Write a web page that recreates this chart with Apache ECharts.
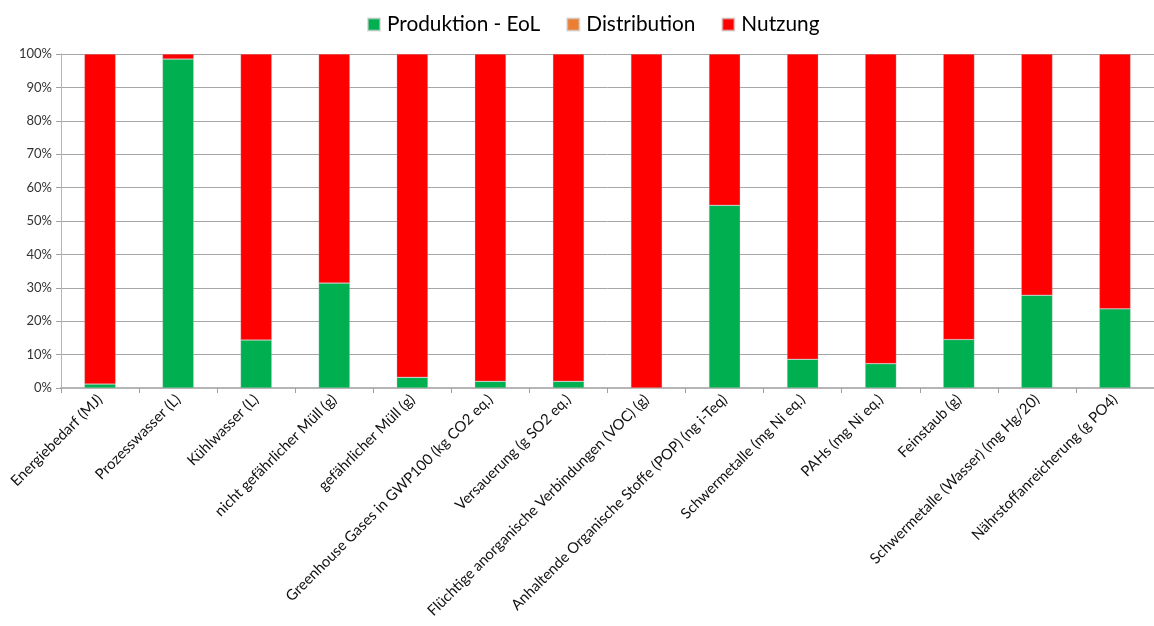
<!DOCTYPE html>
<html>
<head>
<meta charset="utf-8">
<script src="https://cdn.jsdelivr.net/npm/echarts@6/dist/echarts.min.js"></script>
<style>
  html, body { margin: 0; padding: 0; background: #fff; }
  #chart { width: 1154px; height: 626px; }
</style>
</head>
<body>
<div id="chart"></div>
<script>
// Impact categories along the x axis
const categories = [
  'Energiebedarf (MJ)',
  'Prozesswasser (L)',
  'Kühlwasser (L)',
  'nicht gefährlicher Müll (g)',
  'gefährlicher Müll (g)',
  'Greenhouse Gases in GWP100 (kg CO2 eq.)',
  'Versauerung (g SO2 eq.)',
  'Flüchtige anorganische Verbindungen (VOC) (g)',
  'Anhaltende Organische Stoffe (POP) (ng i-Teq)',
  'Schwermetalle (mg Ni eq.)',
  'PAHs (mg Ni eq.)',
  'Feinstaub (g)',
  'Schwermetalle (Wasser) (mg Hg/20)',
  'Nährstoffanreicherung (g PO4)'
];

// Share of each life-cycle phase, in percent
const produktion   = [1.2, 98.5, 14.4, 31.4, 3.2, 2.0, 2.0, 0.0, 54.7, 8.6, 7.3, 14.5, 27.8, 23.7];
const distribution = [0, 0, 0, 0, 0, 0, 0, 0, 0, 0, 0, 0, 0, 0];
const nutzung      = [98.8, 1.5, 85.6, 68.6, 96.8, 98.0, 98.0, 100.0, 45.3, 91.4, 92.7, 85.5, 72.2, 76.3];

const seriesNames = ['Produktion - EoL', 'Distribution', 'Nutzung'];
const yTicks = [0, 10, 20, 30, 40, 50, 60, 70, 80, 90, 100];

const FONT = 'Lato, "Open Sans", sans-serif';
const colors = ['#00b050', '#ed7d31', '#ff0000'];

const chart = echarts.init(document.getElementById('chart'), null, { renderer: 'canvas' });

const barStyle = { borderColor: 'rgba(200,200,200,0.6)', borderWidth: 0.5 };

chart.setOption({
  animation: false,
  color: colors,
  legend: {
    top: 9,
    left: 362,
    itemWidth: 12,
    itemHeight: 12,
    itemGap: 26,
    icon: 'rect',
    textStyle: { fontFamily: FONT, fontSize: 20.8, color: '#000', padding: [0, 0, 0, 2] },
    data: seriesNames
  },
  grid: { left: 61, right: -6, top: 54, bottom: 238, containLabel: false },
  xAxis: {
    type: 'category',
    data: categories,
    axisLine: { lineStyle: { color: '#b5b5b5', width: 2 } },
    axisTick: { show: true, alignWithLabel: false, length: 5, lineStyle: { color: '#a0a0a0' } },
    axisLabel: {
      rotate: 45,
      interval: 0,
      margin: 9,
      fontFamily: FONT,
      fontSize: 14.8,
      color: '#111'
    }
  },
  yAxis: {
    type: 'value',
    min: 0,
    max: 100,
    interval: 10,
    axisLine: { show: true, lineStyle: { color: '#b5b5b5', width: 1 } },
    axisTick: { show: true, length: 5, lineStyle: { color: '#a0a0a0' } },
    splitLine: { lineStyle: { color: '#a6a6a6', width: 1 } },
    axisLabel: {
      formatter: function (v) { return yTicks.indexOf(v) >= 0 ? v + '%' : ''; },
      fontFamily: FONT,
      fontSize: 13,
      color: '#333',
      margin: 9
    }
  },
  series: [
    { name: seriesNames[0], type: 'bar', stack: 'total', data: produktion, barWidth: '40%', itemStyle: barStyle },
    { name: seriesNames[1], type: 'bar', stack: 'total', data: distribution, barWidth: '40%', itemStyle: barStyle },
    { name: seriesNames[2], type: 'bar', stack: 'total', data: nutzung, barWidth: '40%', itemStyle: barStyle }
  ]
});
</script>
</body>
</html>
